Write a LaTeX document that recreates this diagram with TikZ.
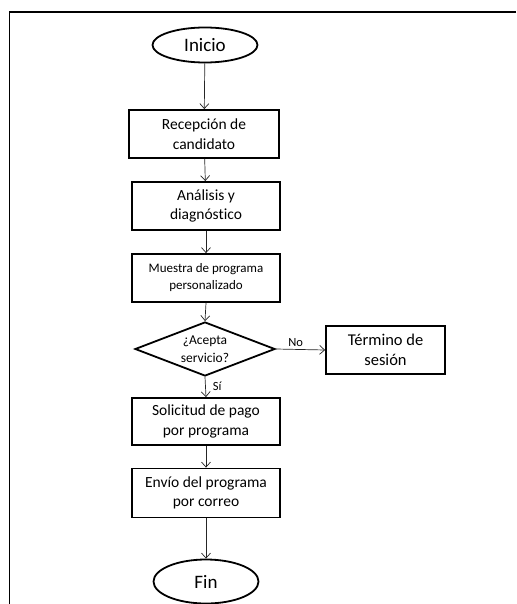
\documentclass[tikz,border=0pt]{standalone}
\usepackage{fontspec}
\setmainfont{Carlito}[Ligatures=NoCommon]
\usetikzlibrary{shapes.geometric,arrows.meta}
\begin{document}
\begin{tikzpicture}[x=1pt,y=-1pt,
  procbox/.style={draw=black,line width=1.8pt,rectangle,minimum width=148pt,minimum height=48pt,inner sep=0pt,align=center,font=\fontsize{15.5}{19.5}\selectfont},
  termbox/.style={draw=black,line width=1.8pt,ellipse,inner sep=0pt,font=\fontsize{19}{22}\selectfont},
  decbox/.style={draw=black,line width=1.8pt,diamond,minimum width=140pt,minimum height=54pt,inner sep=0pt},
  flow/.style={draw=black!85,line width=0.7pt,-{Straight Barb[length=5pt,width=9pt,line width=0.7pt]}},
  lbl/.style={font=\fontsize{12.5}{14}\selectfont,inner sep=0pt}
]
\useasboundingbox (0,0) rectangle (516,604);
% frame
\coordinate (fr1) at (516,12);
\coordinate (fr2) at (9.5,12);
\coordinate (fr3) at (9.5,604);
\draw[line width=1.4pt] (fr1) -- (fr2) -- (fr3);

\node[termbox,minimum width=105pt,minimum height=35pt] (inicio) at (205,45) {Inicio};
\node[procbox,minimum width=150pt] (rec) at (204,134) {Recepción de\\candidato};
\node[procbox] (ana) at (206,206) {Análisis y\\diagnóstico};
\node[procbox,font=\fontsize{13}{17}\selectfont] (mue) at (206,278) {Muestra de programa\\personalizado};
\node[decbox] (dec) at (205,349) {};
\node[align=center,inner sep=0pt,font=\fontsize{13.5}{18}\selectfont] (dectxt) at (205,349) {¿Acepta\\servicio?};
\node[procbox,minimum width=119pt,font=\fontsize{16.5}{20.5}\selectfont] (ter) at (385.5,350) {Término de\\sesión};
\node[procbox,minimum height=47pt] (sol) at (206,421.5) {Solicitud de pago\\por programa};
\node[procbox,minimum height=49pt] (env) at (206,493) {Envío del programa\\por correo};
\node[termbox,minimum width=105pt,minimum height=44pt] (fin) at (206,581.5) {Fin};

\draw[flow] (inicio) -- (rec);
\draw[flow] (rec) -- (ana);
\draw[flow] (ana) -- (mue);
\draw[flow] (mue.south) -- (dec.north);
\draw[flow] (dec.east) -- (ter.west) node[lbl,pos=0.4,above=2pt] (no) {No};
\draw[flow] (dec.south) -- (sol.north) node[lbl,pos=0.45,right=7pt] (si) {Sí};
\draw[flow] (sol) -- (env);
\draw[flow] (env) -- (fin);
\end{tikzpicture}
\end{document}
